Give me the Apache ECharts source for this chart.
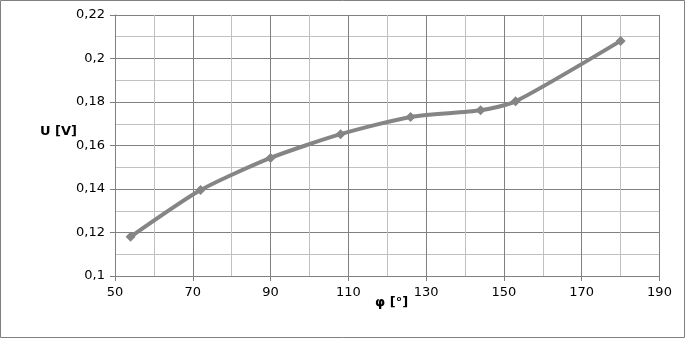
<!DOCTYPE html>
<html><head><meta charset="utf-8">
<script src="https://cdn.jsdelivr.net/npm/echarts@6/dist/echarts.min.js"></script>
<style>html,body{margin:0;padding:0;background:#fff}#c{width:685px;height:338px}</style>
</head><body><div id="c"></div>
<script>
const phi = [54, 72, 90, 108, 126, 144, 153, 180];
const U = [0.118, 0.1395, 0.1543, 0.1652, 0.1731, 0.1762, 0.1803, 0.2081];
const xAxisName = 'φ [°]';
const yAxisName = 'U [V]';

const chart = echarts.init(document.getElementById('c'), null, {renderer: 'canvas'});
const fmt = v => String(+(+v).toFixed(2)).replace('.', ',');
chart.setOption({
  animation: false,
  backgroundColor: '#fff',
  textStyle: {fontFamily: 'DejaVu Sans'},
  grid: {left: 115, top: 15, right: 25.5, bottom: 62, containLabel: false},
  graphic: [
    {type: 'rect', shape: {x: 0.5, y: 0.5, width: 684, height: 337}, style: {fill: 'none', stroke: '#808080', lineWidth: 1}},
    {type: 'text', left: 40, top: 125, style: {text: yAxisName, font: 'bold 13px DejaVu Sans', fill: '#000'}},
    {type: 'text', left: 375, top: 296, style: {text: xAxisName, font: 'bold 13px DejaVu Sans', fill: '#000'}}
  ],
  xAxis: {
    type: 'value', min: 50, max: 190, interval: 20,
    axisLine: {show: true, lineStyle: {color: '#808080'}},
    axisTick: {show: true, length: 5, lineStyle: {color: '#808080'}},
    axisLabel: {color: '#000', fontSize: 13, margin: 10},
    splitLine: {show: true, lineStyle: {color: '#808080'}},
    minorTick: {show: false, splitNumber: 2},
    minorSplitLine: {show: true, lineStyle: {color: '#c0c0c0'}}
  },
  yAxis: {
    type: 'value', min: 0.1, max: 0.22, interval: 0.02,
    axisLine: {show: true, lineStyle: {color: '#808080'}},
    axisTick: {show: true, length: 5, lineStyle: {color: '#808080'}},
    axisLabel: {color: '#000', fontSize: 13, margin: 10, formatter: fmt},
    splitLine: {show: true, lineStyle: {color: '#808080'}},
    minorTick: {show: false, splitNumber: 2},
    minorSplitLine: {show: true, lineStyle: {color: '#c0c0c0'}}
  },
  series: [{
    type: 'line',
    data: phi.map((p, i) => [p, U[i]]),
    smooth: 0.22,
    symbol: 'diamond',
    symbolSize: 10,
    lineStyle: {color: '#858585', width: 4},
    itemStyle: {color: '#858585'}
  }]
});
</script></body></html>
